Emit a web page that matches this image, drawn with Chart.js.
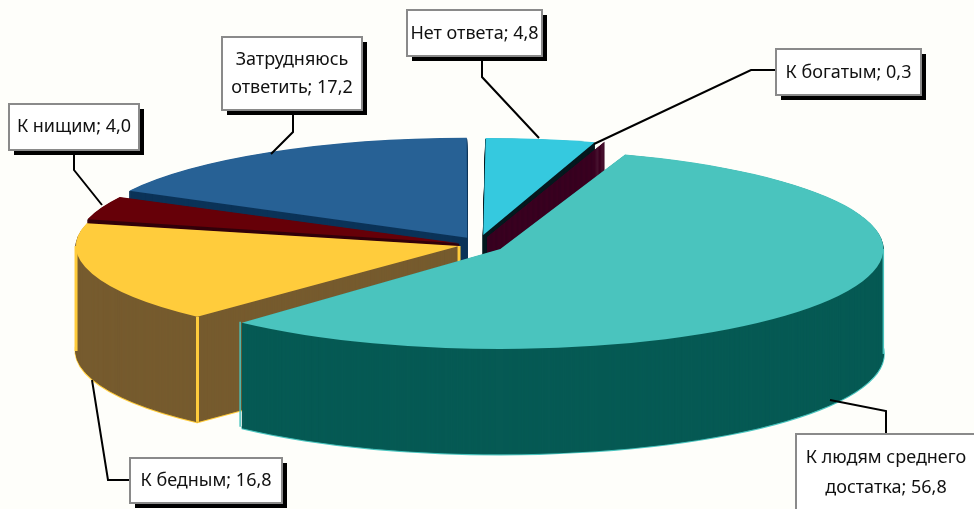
<!DOCTYPE html>
<html><head><meta charset="utf-8">
<style>html,body{margin:0;padding:0;background:#FEFEFA;overflow:hidden}canvas{display:block}</style>
<script src="https://cdn.jsdelivr.net/npm/chart.js@4"></script>
</head><body><canvas id="c" width="974" height="509"></canvas>
<script>
const categories = ["Нет ответа","К богатым","К людям среднего достатка","К бедным","К нищим","Затрудняюсь ответить"];
const values = [4.8,0.3,56.8,16.8,4.0,17.2];

const topColors  = ["#35C9DF","#4A0A20","#4AC4BE","#FFCC3C","#660008","#276195"];
const sideColors = ["#04181E","#3A0020","#065A54","#765B2E","#33000A","#0B3358"];
const rimColors  = [null,null,"#4AC4BE","#FFCC3C",null,null];
const offsets    = [52,56,66,51,54,58];
const nudges     = [[0,0],[0,2],[-2.5,5],[0,4],[0,5],[0,3]];
const radiiY     = [97,100,100,97,100,100];
const paintOrder = [5,4,0,1,3,2];
const view = {cx:480,cy:240.4,a:383,depth:105};

const boxes = [
 {x:407,y:10,w:135,h:46,brk:99,lines:[34]},
 {x:776,y:49,w:145,h:46,brk:99,lines:[73]},
 {x:796,y:434,w:190,h:76,brk:3,lines:[458,488],cxt:886,noShadow:true},
 {x:130,y:458,w:152,h:45,brk:99,lines:[481]},
 {x:9,y:104,w:130,h:46,brk:99,lines:[127]},
 {x:222,y:37,w:140,h:73,brk:1,lines:[60,88]}
];
const leaders = [
 [[482,60],[482,77],[539,138]],
 [[776,70],[751,70],[594,144]],
 [[886,434],[886,411],[830,400]],
 [[130,480],[108,480],[92,380]],
 [[74,152],[74,170],[102,205]],
 [[293,114],[293,132],[271,154]]
];

const fmt = v => v.toFixed(1).replace(".",",");

const pie3d = {
 id:"pie3d",
 beforeDatasetsDraw(chart){
  const ctx = chart.ctx, meta = chart.getDatasetMeta(0);
  const nativeStroke = ctx.stroke;
  ctx.stroke = function(){ ctx.save(); ctx.setTransform(1,0,0,1,0,0); nativeStroke.call(ctx); ctx.restore(); };
  for(const i of paintOrder){
   const el = meta.data[i], base = el.options;
   const off = offsets[i]/4;
   const R = el.outerRadius + off*(1-Math.sin(Math.min(Math.PI,el.circumference)));
   const sx = view.a/R, sy = radiiY[i]/R;
   const ox = view.cx+nudges[i][0]-el.x*sx, oy = view.cy+nudges[i][1]-el.y*sy;
   const at = k => ctx.setTransform(sx,0,0,sy,ox,oy+k);
   ctx.save();
   if(rimColors[i]){
    at(view.depth);
    el.options = {...base,backgroundColor:sideColors[i],borderColor:rimColors[i],borderWidth:3};
    el.draw(ctx);
   }
   el.options = {...base,backgroundColor:sideColors[i],borderColor:sideColors[i],borderWidth:1};
   for(let k=view.depth;k>=1;k--){ at(k); el.draw(ctx); }
   ctx.restore();
   if(rimColors[i]){
    const mid=(el.startAngle+el.endAngle)/2;
    const sp=(ang,r)=>[
      view.cx+nudges[i][0]+(Math.cos(mid)*off+Math.cos(ang)*r)*sx,
      view.cy+nudges[i][1]+(Math.sin(mid)*off+Math.sin(ang)*r)*sy];
    const edges = i===3 ? [[el.startAngle,R],[mid,0],[Math.PI,R]] : [[el.endAngle,R*0.995],[Math.PI*2,R]];
    ctx.save(); ctx.strokeStyle=rimColors[i]; ctx.lineWidth=i===3?3:1.5;
    for(const [ang,r] of edges){
      const p=sp(ang,r);
      ctx.beginPath(); ctx.moveTo(p[0],p[1]); ctx.lineTo(p[0],p[1]+view.depth); nativeStroke.call(ctx);
    }
    ctx.restore();
   }
   ctx.save();
   at(0);
   el.options = {...base,backgroundColor:topColors[i],borderWidth:0};
   el.draw(ctx);
   ctx.restore();
   el.options = base;
  }
  delete ctx.stroke;
  return false;
 },
 afterDraw(chart){
  const ctx = chart.ctx;
  ctx.save();
  leaders.forEach(pts=>{
   ctx.beginPath(); pts.forEach((p,j)=>j?ctx.lineTo(p[0],p[1]):ctx.moveTo(p[0],p[1]));
   ctx.strokeStyle="#000"; ctx.lineWidth=2; ctx.lineJoin="miter"; ctx.stroke();
  });
  ctx.textAlign="center"; ctx.textBaseline="middle"; ctx.font='18px "Noto Sans"';
  boxes.forEach((b,i)=>{
   if(!b.noShadow){ ctx.fillStyle="#000"; ctx.fillRect(b.x+5,b.y+5,b.w,b.h); }
   ctx.fillStyle="#fff"; ctx.fillRect(b.x,b.y,b.w,b.h);
   ctx.strokeStyle="#8A8A8A"; ctx.lineWidth=2; ctx.strokeRect(b.x,b.y,b.w,b.h);
   const words=(categories[i]+"; "+fmt(values[i])).split(" ");
   const lines=b.brk<words.length?[words.slice(0,b.brk).join(" "),words.slice(b.brk).join(" ")]:[words.join(" ")];
   ctx.fillStyle="#111";
   lines.forEach((t,j)=>ctx.fillText(t,b.cxt||b.x+b.w/2,b.lines[j]));
  });
  ctx.restore();
 }
};

new Chart(document.getElementById("c"),{
 type:"pie",
 data:{labels:categories,datasets:[{data:values,backgroundColor:topColors,borderWidth:0,offset:offsets}]},
 options:{responsive:false,animation:false,events:[],
  plugins:{legend:{display:false},tooltip:{enabled:false}}},
 plugins:[pie3d]
});
</script></body></html>
